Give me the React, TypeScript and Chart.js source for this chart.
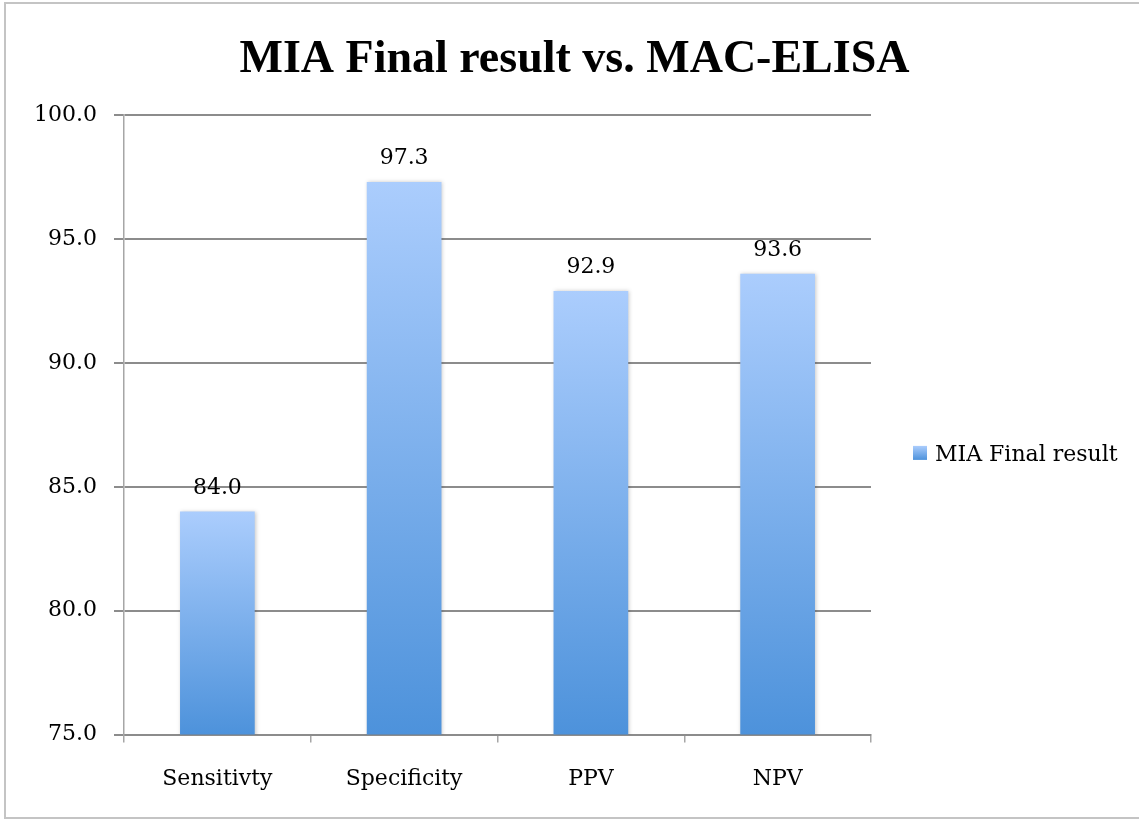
import React, { useEffect, useRef } from "react";
import { Chart, registerables } from "chart.js";

Chart.register(...registerables);

const titleText = "MIA Final result vs. MAC-ELISA";
const categories = ["Sensitivty", "Specificity", "PPV", "NPV"];
const seriesName = "MIA Final result";
const values = [84.0, 97.3, 92.9, 93.6];
const yMin = 75;
const yMax = 100;
const yStep = 5;

const TOP_COLOR = "#abcdfd";
const BOTTOM_COLOR = "#4d92db";
const GRID_COLOR = "#8c8c8c";
const AXIS_COLOR = "#a6a6a6";
const FONT = "'DejaVu Serif', serif";
const FS = 22;

function barGradient(ctx: any) {
  const chart = ctx.chart;
  if (!chart.chartArea || ctx.type !== "data") return "#7fb0ea";
  const ys = chart.scales.y;
  const top = ys.getPixelForValue(ctx.raw);
  const bottom = ys.getPixelForValue(yMin);
  const g = chart.ctx.createLinearGradient(0, top, 0, bottom);
  g.addColorStop(0, TOP_COLOR);
  g.addColorStop(1, BOTTOM_COLOR);
  return g;
}

const framePlugin = {
  id: "frame",
  beforeDraw(chart: any) {
    const c = chart.ctx;
    c.save();
    c.fillStyle = "#ffffff";
    c.fillRect(0, 0, chart.width, chart.height);
    c.strokeStyle = "#c4c4c4";
    c.lineWidth = 2;
    c.strokeRect(5, 3, 1140, 815);
    c.restore();
  },
};

const shadowPlugin = {
  id: "barShadow",
  beforeDatasetsDraw(chart: any) {
    const c = chart.ctx;
    c.save();
    c.shadowColor = "rgba(0,0,0,0.22)";
    c.shadowBlur = 4;
    c.shadowOffsetX = 1;
    c.shadowOffsetY = 0;
  },
  afterDatasetsDraw(chart: any) {
    chart.ctx.restore();
  },
};

const labelPlugin = {
  id: "valueLabels",
  afterDatasetsDraw(chart: any) {
    const c = chart.ctx;
    const meta = chart.getDatasetMeta(0);
    c.save();
    c.font = `${FS}px ${FONT}`;
    c.fillStyle = "#000";
    c.textAlign = "center";
    c.textBaseline = "alphabetic";
    meta.data.forEach((el: any, i: number) => {
      const v = chart.data.datasets[0].data[i] as number;
      c.fillText(v.toFixed(1), el.x, el.y - 18);
    });
    c.restore();
  },
};

const legendPlugin = {
  id: "sideLegend",
  afterDraw(chart: any) {
    const c = chart.ctx;
    const { chartArea } = chart;
    const x0 = chartArea.right + 42;
    const cy = (chartArea.top + chartArea.bottom) / 2 + 28;
    const size = 14;
    const g = c.createLinearGradient(0, cy - size / 2, 0, cy + size / 2);
    g.addColorStop(0, TOP_COLOR);
    g.addColorStop(1, BOTTOM_COLOR);
    c.save();
    c.fillStyle = g;
    c.fillRect(x0, cy - size / 2, size, size);
    c.font = `${FS}px ${FONT}`;
    c.fillStyle = "#000";
    c.textAlign = "left";
    c.textBaseline = "middle";
    c.fillText(seriesName, x0 + 22, cy + 2);
    c.restore();
  },
};

export default function App() {
  const ref = useRef<HTMLCanvasElement | null>(null);

  useEffect(() => {
    document.body.style.margin = "0";
    if (!ref.current) return;
    const chart = new Chart(ref.current, {
      type: "bar",
      data: {
        labels: categories,
        datasets: [
          {
            label: seriesName,
            data: values,
            backgroundColor: barGradient,
            borderWidth: 0,
            barPercentage: 0.4,
            categoryPercentage: 1,
          },
        ],
      },
      options: {
        responsive: false,
        animation: false,
        devicePixelRatio: 1,
        layout: { padding: { left: 10, right: 0, top: 0, bottom: 4 } },
        font: { family: FONT },
        plugins: {
          legend: { display: false },
          tooltip: { enabled: false },
          title: {
            display: true,
            text: titleText,
            color: "#000",
            font: { family: "'Liberation Serif', serif", weight: "bold", size: 46, lineHeight: 1.2 },
            padding: { top: 33, bottom: 27 },
          },
        },
        scales: {
          x: {
            offset: true,
            grid: {
              offset: true,
              drawOnChartArea: false,
              drawTicks: true,
              tickLength: 8,
              color: AXIS_COLOR,
              lineWidth: 1.5,
            },
            border: { display: true, color: GRID_COLOR, width: 2 },
            ticks: {
              color: "#000",
              padding: 23,
              font: { family: FONT, size: FS },
            },
          },
          y: {
            min: yMin,
            max: yMax,
            grid: { color: GRID_COLOR, tickLength: 10, lineWidth: 2 },
            border: { display: true, color: AXIS_COLOR, width: 1.5 },
            ticks: {
              stepSize: yStep,
              color: "#000",
              padding: 17,
              font: { family: FONT, size: FS },
              callback: (v: any) => Number(v).toFixed(1),
            },
            afterFit: (s: any) => {
              s.width = 114;
            },
          },
          y2: {
            position: "right",
            display: true,
            grid: { display: false, drawTicks: false },
            border: { display: false },
            ticks: { display: false },
            afterFit: (s: any) => {
              s.width = 268;
            },
          },
        },
      },
      plugins: [framePlugin, shadowPlugin, labelPlugin, legendPlugin],
    });
    return () => chart.destroy();
  }, []);

  return (
    <div style={{ width: 1139, height: 819 }}>
      <canvas ref={ref} width={1139} height={819} />
    </div>
  );
}
